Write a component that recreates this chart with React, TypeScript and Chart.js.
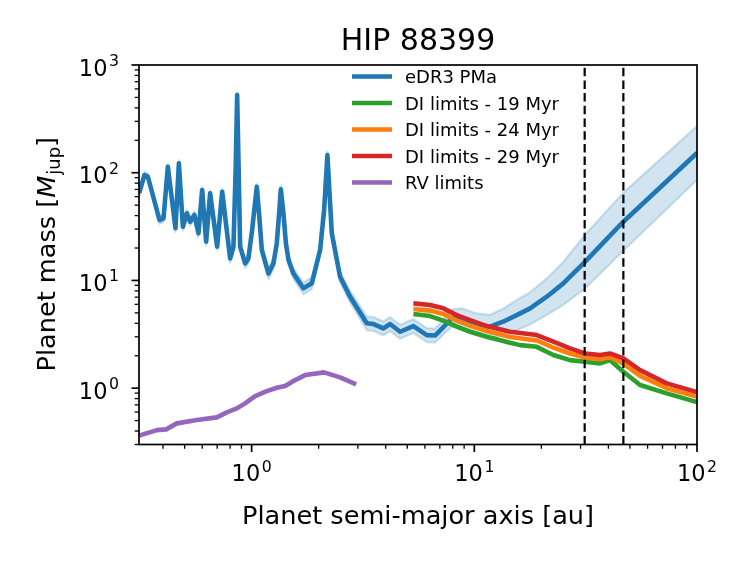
import React, { useEffect, useRef } from 'react';
import { Chart, registerables } from 'chart.js';

Chart.register(...registerables);

// ---------- data ----------
const X_LIMITS = [0.312, 100];
const Y_LIMITS = [0.3, 1000];
const X_MAJOR = [1, 10, 100];
const X_MAJOR_EXP = ['0', '1', '2'];
const Y_MAJOR = [1, 10, 100, 1000];
const Y_MAJOR_EXP = ['0', '1', '2', '3'];
const MINOR_MULT = [2, 3, 4, 5, 6, 7, 8, 9];
const MINOR_DECADES = [0.1, 1, 10, 100];

const TITLE = 'HIP 88399';
const X_LABEL = 'Planet semi-major axis [au]';

// eDR3 PMa sensitivity curve (au, Mjup) and its band half-width (dex)
const pmaA = [0.3126, 0.330, 0.342, 0.3856, 0.402, 0.4205, 0.4549, 0.4712, 0.4911, 0.5118, 0.5295, 0.5534, 0.577, 0.5995, 0.6246, 0.651, 0.700, 0.7374, 0.8008, 0.8286, 0.8475, 0.8608, 0.8744, 0.8879, 0.935, 0.967, 1.005, 1.055, 1.081, 1.111, 1.190, 1.253, 1.296, 1.331, 1.352, 1.390, 1.426, 1.465, 1.540, 1.708, 1.863, 2.030, 2.116, 2.189, 2.240, 2.291, 2.496, 2.768, 3.017, 3.290, 3.523, 3.906, 4.185, 4.642, 5.325, 6.116, 6.666, 7.261, 7.946, 8.81, 10.18, 11.77, 13.46, 15.51, 17.8, 21.15, 25.1, 31.4, 46.7, 100];
const pmaM = [64.8, 95.2, 91.8, 36.4, 37.7, 113.7, 30.5, 122.3, 31.5, 42.0, 35.1, 40.5, 27.4, 69.1, 22.9, 64.4, 20.6, 66.6, 16.0, 20.6, 105.9, 526.5, 105.9, 20.6, 14.4, 16.0, 29.4, 74.1, 40.5, 19.2, 11.6, 14.4, 21.8, 44.0, 70.1, 41.4, 21.8, 15.4, 11.6, 8.45, 9.40, 19.2, 45.1, 146.0, 62.1, 27.4, 10.8, 7.06, 5.31, 4.00, 3.94, 3.59, 3.94, 3.34, 3.77, 3.11, 3.08, 3.69, 4.48, 4.48, 3.94, 3.72, 4.14, 4.77, 5.51, 7.06, 9.40, 14.9, 35.1, 152.4];
const pmaErrDex = [0.03, 0.03, 0.03, 0.035, 0.035, 0.03, 0.035, 0.03, 0.035, 0.035, 0.035, 0.035, 0.035, 0.03, 0.035, 0.03, 0.035, 0.03, 0.04, 0.04, 0.03, 0.03, 0.03, 0.04, 0.045, 0.045, 0.03, 0.03, 0.03, 0.04, 0.05, 0.05, 0.035, 0.035, 0.035, 0.035, 0.035, 0.04, 0.05, 0.055, 0.055, 0.035, 0.035, 0.035, 0.035, 0.035, 0.05, 0.055, 0.06, 0.065, 0.065, 0.065, 0.065, 0.065, 0.065, 0.065, 0.065, 0.07, 0.08, 0.09, 0.1, 0.11, 0.12, 0.14, 0.15, 0.17, 0.2, 0.25, 0.27, 0.25];

// DI limits
const di29A = [5.325, 6.33, 7.26, 8.34, 9.57, 11.37, 14.47, 19.07, 22.64, 26.9, 31.4, 36.7, 40.7, 46.7, 55.5, 73.1, 100];
const di29M = [6.13, 5.91, 5.51, 4.77, 4.29, 3.77, 3.34, 3.11, 2.70, 2.34, 2.10, 2.03, 2.10, 1.89, 1.47, 1.108, 0.920];
const di24A = [5.325, 6.33, 7.26, 8.34, 9.57, 11.37, 14.47, 19.07, 22.64, 26.9, 31.4, 36.7, 40.7, 46.7, 55.5, 73.1, 100];
const di24M = [5.43, 5.25, 4.88, 4.24, 3.81, 3.39, 2.98, 2.77, 2.38, 2.10, 1.92, 1.86, 1.94, 1.69, 1.30, 1.00, 0.836];
const di19A = [5.325, 6.33, 7.26, 8.34, 9.57, 11.37, 14.47, 16.05, 19.07, 22.64, 26.9, 31.4, 36.7, 40.7, 46.7, 55.5, 73.1, 100];
const di19M = [4.88, 4.67, 4.23, 3.72, 3.34, 3.00, 2.64, 2.51, 2.42, 2.03, 1.82, 1.76, 1.70, 1.82, 1.42, 1.07, 0.895, 0.743];

// RV limits
const rvA = [0.3126, 0.3754, 0.4131, 0.4615, 0.5675, 0.6978, 0.7737, 0.8582, 0.935, 1.037, 1.170, 1.298, 1.414, 1.568, 1.739, 2.116, 2.496, 2.945];
const rvM = [0.363, 0.408, 0.4145, 0.4712, 0.5055, 0.5356, 0.5961, 0.6494, 0.7226, 0.8445, 0.940, 1.009, 1.046, 1.189, 1.323, 1.402, 1.260, 1.085];

// vertical dashed markers (au)
const vlineA = [31.3, 46.7];

const legendLabels = ['eDR3 PMa', 'DI limits - 19 Myr', 'DI limits - 24 Myr', 'DI limits - 29 Myr', 'RV limits'];
const legendColors = ['#1f77b4', '#2ca02c', '#ff7f0e', '#d62728', '#9467bd'];

// ---------- helpers ----------
const FONT = '"DejaVu Sans", sans-serif';
const LW = 4.6;
const pts = (xs: number[], ys: number[]) => xs.map((x, i) => ({ x, y: ys[i] }));

function drawPow(ctx: CanvasRenderingContext2D, exp: string, x: number, baseline: number, align: 'center' | 'right', fs: number) {
  ctx.font = `${fs}px ${FONT}`;
  const w1 = ctx.measureText('10').width;
  ctx.font = `${fs * 0.7}px ${FONT}`;
  const w2 = ctx.measureText(exp).width;
  const gap = 1.5;
  const total = w1 + gap + w2;
  const left = align === 'center' ? x - total / 2 : x - total;
  ctx.textAlign = 'left';
  ctx.textBaseline = 'alphabetic';
  ctx.font = `${fs}px ${FONT}`;
  ctx.fillText('10', left, baseline);
  ctx.font = `${fs * 0.7}px ${FONT}`;
  ctx.fillText(exp, left + w1 + gap, baseline - fs * 0.42);
}

const decorPlugin = {
  id: 'decor',
  afterDatasetsDraw(chart: any) {
    const { ctx, chartArea: ca } = chart;
    const xs = chart.scales.x;
    const ys = chart.scales.y;
    ctx.save();
    ctx.fillStyle = '#000';
    ctx.strokeStyle = '#000';

    // frame
    ctx.lineWidth = 1.7;
    ctx.lineJoin = 'miter';
    ctx.strokeRect(ca.left, ca.top, ca.right - ca.left, ca.bottom - ca.top);

    const tick = (x1: number, y1: number, x2: number, y2: number, w: number) => {
      ctx.lineWidth = w;
      ctx.beginPath();
      ctx.moveTo(x1, y1);
      ctx.lineTo(x2, y2);
      ctx.stroke();
    };
    const majLen = 7.5;
    const minLen = 4.3;
    const eps = 1e-9;

    // x ticks
    X_MAJOR.forEach((v) => {
      const px = xs.getPixelForValue(v);
      tick(px, ca.bottom, px, ca.bottom + majLen, 1.7);
    });
    MINOR_DECADES.forEach((d) =>
      MINOR_MULT.forEach((m) => {
        const v = d * m;
        if (v < X_LIMITS[0] - eps || v > X_LIMITS[1] + eps) return;
        const px = xs.getPixelForValue(v);
        tick(px, ca.bottom, px, ca.bottom + minLen, 1.3);
      })
    );
    // y ticks
    Y_MAJOR.forEach((v) => {
      const py = ys.getPixelForValue(v);
      tick(ca.left, py, ca.left - majLen, py, 1.7);
    });
    MINOR_DECADES.forEach((d) =>
      MINOR_MULT.forEach((m) => {
        const v = d * m;
        if (v < Y_LIMITS[0] - 1e-6 || v > Y_LIMITS[1] + eps) return;
        const py = ys.getPixelForValue(v);
        tick(ca.left, py, ca.left - minLen, py, 1.3);
      })
    );

    // tick labels
    const TFS = 22.5;
    X_MAJOR.forEach((v, i) => {
      drawPow(ctx, X_MAJOR_EXP[i], xs.getPixelForValue(v), ca.bottom + 36.5, 'center', TFS);
    });
    Y_MAJOR.forEach((v, i) => {
      drawPow(ctx, Y_MAJOR_EXP[i], ca.left - 20, ys.getPixelForValue(v) + 10.5, 'right', TFS);
    });

    // title
    const cx = (ca.left + ca.right) / 2;
    ctx.textAlign = 'center';
    ctx.textBaseline = 'alphabetic';
    ctx.font = `30px ${FONT}`;
    ctx.fillText(TITLE, cx, 50);

    // x label
    const LFS = 25.6;
    ctx.font = `${LFS}px ${FONT}`;
    ctx.fillText(X_LABEL, cx, 524);

    // y label (rotated, with math)
    const cy = (ca.top + ca.bottom) / 2;
    ctx.save();
    ctx.translate(55, cy);
    ctx.rotate(-Math.PI / 2);
    ctx.textAlign = 'left';
    const parts = [
      { t: 'Planet mass [', f: `${LFS}px ${FONT}`, dy: 0 },
      { t: 'M', f: `italic ${LFS}px ${FONT}`, dy: 0 },
      { t: 'jup', f: `${LFS * 0.7}px ${FONT}`, dy: LFS * 0.2 },
      { t: ']', f: `${LFS}px ${FONT}`, dy: 0 },
    ];
    let total = 0;
    const widths = parts.map((p) => {
      ctx.font = p.f;
      const w = ctx.measureText(p.t).width;
      total += w;
      return w;
    });
    let xx = -total / 2;
    parts.forEach((p, i) => {
      ctx.font = p.f;
      ctx.fillText(p.t, xx, p.dy);
      xx += widths[i] + (p.t === 'M' ? 1 : 0);
    });
    ctx.restore();

    // legend
    ctx.font = `18px ${FONT}`;
    ctx.textAlign = 'left';
    legendLabels.forEach((lab, i) => {
      const y = 76.5 + 26.5 * i;
      ctx.strokeStyle = legendColors[i];
      ctx.lineWidth = LW;
      ctx.lineCap = 'butt';
      ctx.beginPath();
      ctx.moveTo(352, y);
      ctx.lineTo(392, y);
      ctx.stroke();
      ctx.fillStyle = '#000';
      ctx.fillText(lab, 405, y + 6.5);
    });

    ctx.restore();
  },
};

export default function App() {
  const ref = useRef<HTMLCanvasElement | null>(null);

  useEffect(() => {
    if (!ref.current) return;
    const bandColor = 'rgba(31,119,180,0.2)';
    const hi = pmaM.map((m, i) => m * Math.pow(10, pmaErrDex[i]));
    const lo = pmaM.map((m, i) => m / Math.pow(10, pmaErrDex[i]));
    const common = { pointRadius: 0, tension: 0, clip: 0, borderJoinStyle: 'round' as const };

    const chart = new Chart(ref.current, {
      type: 'line',
      data: {
        datasets: [
          { ...common, label: 'band hi', data: pts(pmaA, hi), borderColor: bandColor, borderWidth: 2.2, backgroundColor: bandColor, fill: '+1', order: 7 },
          { ...common, label: 'band lo', data: pts(pmaA, lo), borderColor: bandColor, borderWidth: 2.2, fill: false, order: 8 },
          { ...common, label: legendLabels[0], data: pts(pmaA, pmaM), borderColor: legendColors[0], borderWidth: LW, fill: false, order: 6 },
          { ...common, label: legendLabels[4], data: pts(rvA, rvM), borderColor: legendColors[4], borderWidth: LW, fill: false, order: 5 },
          { ...common, label: legendLabels[1], data: pts(di19A, di19M), borderColor: legendColors[1], borderWidth: LW, fill: false, order: 4 },
          { ...common, label: legendLabels[2], data: pts(di24A, di24M), borderColor: legendColors[2], borderWidth: LW, fill: false, order: 3 },
          { ...common, label: legendLabels[3], data: pts(di29A, di29M), borderColor: legendColors[3], borderWidth: LW, fill: false, order: 2 },
          ...vlineA.map((a) => ({
            ...common,
            label: 'marker',
            data: [{ x: a, y: Y_LIMITS[0] }, { x: a, y: Y_LIMITS[1] }],
            borderColor: '#000',
            borderWidth: 2.2,
            borderDash: [8.5, 4.2],
            fill: false,
            order: 1,
          })),
        ],
      },
      options: {
        responsive: false,
        maintainAspectRatio: false,
        animation: false,
        events: [],
        layout: { padding: { left: 139, right: 50, top: 65, bottom: 116.5 } },
        scales: {
          x: { type: 'logarithmic', min: X_LIMITS[0], max: X_LIMITS[1], bounds: 'data', display: false },
          y: { type: 'logarithmic', min: Y_LIMITS[0], max: Y_LIMITS[1], bounds: 'data', display: false },
        },
        plugins: {
          legend: { display: false },
          tooltip: { enabled: false },
          title: { display: false },
        },
      },
      plugins: [decorPlugin],
    } as any);

    return () => chart.destroy();
  }, []);

  return (
    <div style={{ position: 'absolute', left: 0, top: 0, width: 747, height: 561, background: '#fff' }}>
      <canvas ref={ref} width={747} height={561} style={{ width: 747, height: 561 }} />
    </div>
  );
}
